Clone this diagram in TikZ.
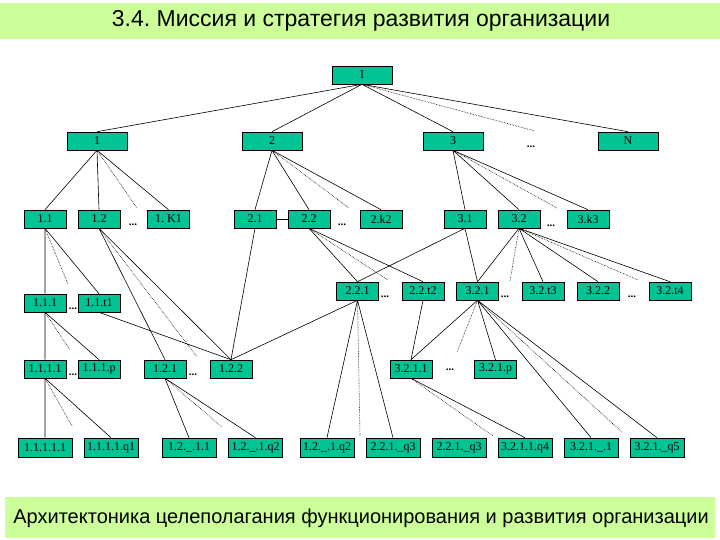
\documentclass[tikz,border=0pt]{standalone}
\usepackage{fontspec}
\setmainfont{Liberation Serif}
\newfontfamily\headfont{Liberation Sans}
\usetikzlibrary{positioning}
\definecolor{boxgreen}{RGB}{0,196,148}
\definecolor{bandgreen}{RGB}{204,255,153}
\frenchspacing

\begin{document}
\begin{tikzpicture}[x=1pt,y=-1pt,line width=0.6pt,
  box/.style={draw,fill=boxgreen,minimum width=42pt,minimum height=18pt,inner sep=0pt,font=\fontsize{12}{12}\selectfont},
  wbox/.style={box,minimum width=60pt},
  qbox/.style={box,minimum width=54pt,minimum height=19pt},
  dots/.style={inner sep=0pt,font=\bfseries\fontsize{11}{11}\selectfont},
  dot/.style={densely dotted}]

\useasboundingbox (0,0) rectangle (720,540);

% bands
\fill[bandgreen] (0,3) rectangle (720,39);
\fill[bandgreen] (5,497) rectangle (715,538);
\node[font=\headfont\fontsize{23}{23}\selectfont] (title) at (361,21) {3.4. Миссия и стратегия развития организации};
\node[font=\headfont\fontsize{20}{20}\selectfont] (caption) at (361,518) {Архитектоника целеполагания функционирования и развития организации};

% level 0, 1
\node[wbox] (top) at (362,75) {I};
\node[wbox] (n1) at (97,141) {1};
\node[wbox] (n2) at (272,141) {2};
\node[wbox] (n3) at (453,141) {3};
\node[dots] (d1) at (531,147) {...};
\node[wbox] (nN) at (628,141) {N};

% level 2
\node[box] (n11) at (45,219) {1.1};
\node[box] (n12) at (99,219) {1.2};
\node[dots] (d2) at (133,225) {...};
\node[box] (n1k) at (168.5,219) {1. K1};
\node[box] (n21) at (255,219) {2.1};
\node[box] (n22) at (309,219) {2.2};
\node[dots] (d3) at (342,225) {...};
\node[box] (n2k) at (381,219) {2.k2};
\node[box] (n31) at (465,219) {3.1};
\node[box] (n32) at (519,219) {3.2};
\node[dots] (d4) at (551,226) {...};
\node[box] (n3k) at (588,219) {3.k3};

% level 3
\node[box] (n111) at (45,303) {1.1.1};
\node[dots] (d5) at (73,309) {...};
\node[box] (n11t) at (99,303) {1.1.t1};
\node[box] (n221) at (357.5,291) {2.2.1};
\node[dots] (d6) at (385,297) {...};
\node[box] (n22t) at (423,291) {2.2.t2};
\node[box] (n321) at (477.5,291) {3.2.1};
\node[dots] (d7) at (505,297) {...};
\node[box] (n32t) at (543,291) {3.2.t3};
\node[box] (n322) at (598,291) {3.2.2};
\node[dots] (d8) at (632,297) {...};
\node[box] (n32u) at (670,291) {3.2.t4};

% level 4
\node[box] (n1111) at (45,369) {1.1.1.1};
\node[dots] (d9) at (73,375) {...};
\node[box] (n111p) at (99,369) {1.1.1.p};
\node[box] (n121) at (165,369) {1.2.1};
\node[dots] (d10) at (193,375) {...};
\node[box] (n122) at (231,369) {1.2.2};
\node[box] (n3211) at (411,369) {3.2.1.1};
\node[dots] (d11) at (450,370) {...};
\node[box] (n321p) at (495.5,369) {3.2.1.p};

% level 5
\node[qbox] (m1) at (45,447.5) {1.1.1.1.1};
\node[qbox] (m2) at (111,447.5) {1.1.1.1.q1};
\node[qbox] (m3) at (189,447.5) {1.2.\_.1.1};
\node[qbox] (m4) at (255.5,447.5) {1.2.\_.1.q2};
\node[qbox] (m5) at (327,447.5) {1.2.\_.1.q2};
\node[qbox] (m6) at (393,447.5) {2.2.1.\_q3};
\node[qbox] (m7) at (459,447.5) {2.2.1.\_q3};
\node[qbox] (m8) at (525,447.5) {3.2.1.1.q4};
\node[qbox] (m9) at (591,447.5) {3.2.1.\_.1};
\node[qbox] (m10) at (657,447.5) {3.2.1.\_q5};

% ends of dotted links
\coordinate (c0) at (535,131);
\coordinate (c1) at (137,208);
\coordinate (c2) at (349,208);
\coordinate (c3) at (557,208);
\coordinate (c4) at (68,284);
\coordinate (c5) at (197,357);
\coordinate (c6) at (388,280);
\coordinate (c7) at (510,281);
\coordinate (c8) at (638,280);
\coordinate (c9) at (70,350);
\coordinate (c10) at (360,436);
\coordinate (c11) at (457,352);
\coordinate (c12) at (623,433);
\coordinate (c13) at (493,436);
\coordinate (c14) at (72,426);
\coordinate (c15) at (222,427);

% links
\draw (top.south) -- (n1.north) (top.south) -- (n2.north) (top.south) -- (n3.north) (top.south) -- (nN.north);
\draw[dot] (top.south) -- (c0);

\draw (n1.south) -- (n11.north) (n1.south) -- (n12.north) (n1.south) -- (n1k.north);
\draw[dot] (n1.south) -- (c1);
\draw (n2.south) -- (n21.north) (n2.south) -- (n22.north) (n2.south) -- (n2k.north);
\draw[dot] (n2.south) -- (c2);
\draw (n3.south) -- (n31.north) (n3.south) -- (n32.north) (n3.south) -- (n3k.north);
\draw[dot] (n3.south) -- (c3);
\draw (n21.east) -- (n22.west);

\draw (n11.south) -- (n111.north) (n11.south) -- (n11t.north);
\draw[dot] (n11.south) -- (c4);
\draw (n12.south) -- (n121.north) (n12.south) -- (n122.north);
\draw[dot] (n12.south) -- (c5);
\draw (n11t.south) -- (n122.north) (n21.south) -- (n122.north) (n221.south) -- (n122.north);

\draw (n22.south) -- (n221.north) (n22.south) -- (n22t.north);
\draw[dot] (n22.south) -- (c6);
\draw (n31.south) -- (n221.north) (n31.south) -- (n321.north);
\draw (n32.south) -- (n321.north) (n32.south) -- (n32t.north) (n32.south) -- (n322.north) (n32.south) -- (n32u.north);
\draw[dot] (n32.south) -- (c7) (n32.south) -- (c8);

\draw (n111.south) -- (n1111.north) (n111.south) -- (n111p.north);
\draw[dot] (n111.south) -- (c9);
\draw (n221.south) -- (m5.north) (n221.south) -- (m6.north);
\draw[dot] (n221.south) -- (c10);
\draw (n22t.south) -- (n3211.north);
\draw (n321.south) -- (n3211.north) (n321.south) -- (n321p.north) (n321.south) -- (m9.north) (n321.south) -- (m10.north);
\draw[dot] (n321.south) -- (c11) (n321.south) -- (c12);

\draw (n3211.south) -- (m8.north);
\draw[dot] (n3211.south) -- (c13);
\draw (n1111.south) -- (m1.north) (n1111.south) -- (m2.north);
\draw[dot] (n1111.south) -- (c14);
\draw (n121.south) -- (m3.north) (n121.south) -- (m4.north);
\draw[dot] (n121.south) -- (c15);

\end{tikzpicture}
\end{document}
